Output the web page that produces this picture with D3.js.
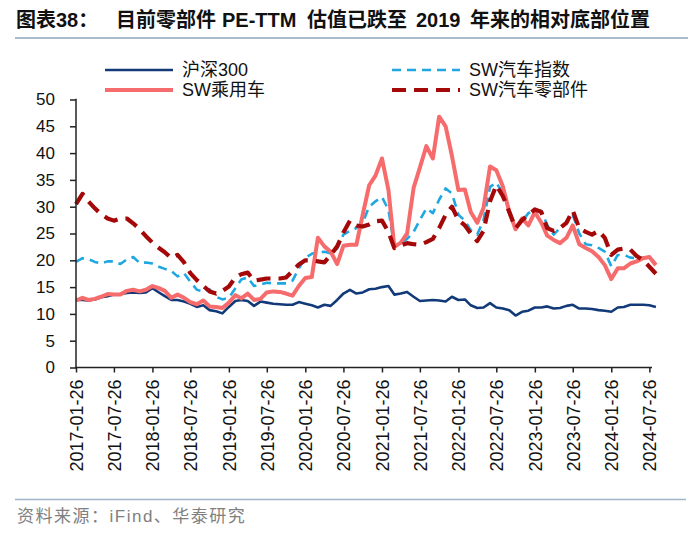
<!DOCTYPE html>
<html><head><meta charset="utf-8">
<script src="https://cdn.jsdelivr.net/npm/d3@7"></script>
<style>
html,body{margin:0;padding:0;background:#fff;}
svg{display:block;}
text{font-family:"Liberation Sans",Arial,"Noto Sans CJK SC",sans-serif;}
</style></head>
<body><svg id="c" width="700" height="535"></svg>
<script>
// ---- data ----
const startDate = "2017-01-26";
const nMonths = 92; // monthly points 2017-01-26 .. 2024-08-26
const seriesNames = ["沪深300","SW汽车指数","SW乘用车","SW汽车零部件"];
const hs300 = [12.6,12.6,12.5,12.7,13.1,13.3,13.6,13.7,13.9,14.0,13.9,14.0,
 14.8,14.0,13.3,12.6,12.6,12.3,11.9,11.3,11.6,10.7,10.5,10.1,
 11.3,12.4,12.6,12.4,11.5,12.3,12.1,11.9,11.8,11.7,11.7,12.2,
 11.9,11.6,11.2,11.7,11.5,12.6,13.8,14.5,13.8,14.0,14.6,14.7,
 15.0,15.2,13.6,13.8,14.1,13.2,12.4,12.5,12.6,12.5,12.3,13.2,
 12.6,12.7,11.6,11.1,11.2,12.0,11.2,11.0,10.7,9.7,10.4,10.6,
 11.2,11.2,11.4,11.0,11.1,11.5,11.7,11.0,11.0,10.9,10.7,10.6,
 10.4,11.2,11.3,11.7,11.7,11.7,11.6,11.3];
const swAuto = [19.7,20.4,20.2,19.7,19.4,19.8,19.8,19.3,20.2,20.6,19.5,19.6,
 19.4,18.8,18.4,18.0,17.0,17.6,16.0,14.5,14.2,14.6,13.2,12.7,
 13.0,14.8,16.4,16.8,15.2,15.5,15.8,15.7,15.7,15.7,16.2,18.5,
 20.5,21.2,21.5,21.6,21.3,22.2,24.8,25.5,26.0,27.0,30.0,31.0,
 31.8,29.4,22.6,23.2,24.0,25.3,27.5,29.7,28.8,31.3,33.4,32.5,
 28.5,27.4,25.6,24.8,27.5,33.7,34.5,32.5,29.5,26.0,27.2,28.8,
 29.4,29.2,26.6,24.8,26.0,27.0,28.5,25.0,23.0,22.8,22.3,21.6,
 18.9,21.0,21.0,20.5,20.4,20.5,20.6,19.3];
const swCar = [12.5,13.0,12.6,12.8,13.2,13.7,13.6,13.6,14.3,14.5,14.2,14.5,
 15.2,14.8,14.3,13.0,13.6,13.0,12.2,11.8,12.5,11.4,11.3,11.1,
 12.1,13.5,12.9,13.8,12.6,12.8,14.0,14.2,14.1,13.8,13.4,15.2,
 16.7,16.9,24.2,22.6,21.6,19.3,22.7,22.9,22.9,28.5,34.0,35.8,
 39.0,33.1,22.5,23.3,25.0,33.5,37.3,41.3,39.0,46.8,45.0,39.5,
 33.1,33.2,29.0,27.0,29.8,37.5,36.8,33.8,29.0,25.8,27.8,26.5,
 29.0,27.0,24.6,23.8,23.2,24.2,26.5,23.0,22.3,21.7,20.6,19.1,
 16.5,18.5,18.5,19.4,19.8,20.4,20.6,19.1];
const swParts = [30.5,32.4,31.0,29.7,28.6,27.8,27.4,27.8,27.8,26.9,25.8,24.5,
 23.3,22.3,21.5,20.4,21.0,19.6,17.6,16.3,15.2,14.2,13.8,14.3,
 15.1,16.8,17.4,17.7,16.2,16.4,16.6,16.6,16.6,16.8,18.0,19.2,
 20.0,20.0,19.8,19.6,21.0,22.6,25.2,27.4,26.5,26.3,26.7,27.3,
 27.4,25.3,22.3,22.8,23.2,23.0,22.9,23.4,24.0,26.0,28.5,30.0,
 27.5,26.5,25.0,23.6,25.5,31.0,34.0,32.0,29.0,26.0,27.5,28.5,
 29.5,29.0,26.0,25.5,26.0,27.0,29.3,26.0,25.3,24.8,25.5,24.2,
 21.0,22.0,22.2,22.0,20.8,20.0,18.8,17.5];
const yTicks = [0,5,10,15,20,25,30,35,40,45,50];
const titleParts = ["图表38：","目前零部件","PE-TTM","估值已跌至","2019","年来的相对底部位置"];
const sourceText = "资料来源：iFind、华泰研究";

// ---- drawing ----
const svg = d3.select("#c");
const parse = d3.timeParse("%Y-%m-%d");
const fmt = d3.timeFormat("%Y-%m-%d");
const t0 = parse(startDate);
const dates = d3.range(nMonths).map(i => d3.timeMonth.offset(t0, i));
const tickDates = d3.range(16).map(i => d3.timeMonth.offset(t0, i*6));

const x = d3.scaleTime().domain([t0, tickDates[tickDates.length-1]]).range([76, 649.4]);
const y = d3.scaleLinear().domain([0,50]).range([367.5, 99.5]);

// title
const titleX = [16, 116, 222, 307, 416, 470];
const tg = svg.append("text").attr("y", 27).attr("font-size", 20).attr("font-weight", "bold").attr("fill", "#111");
titleParts.forEach((p,i) => tg.append("tspan").attr("x", titleX[i]).text(p));
svg.append("line").attr("x1", 15).attr("x2", 688).attr("y1", 38).attr("y2", 38)
  .attr("stroke", "#8EA4BC").attr("stroke-width", 1.5);

// series styles
const styles = [
  {data: hs300, color: "#133A78", width: 2.6, dash: null},
  {data: swAuto, color: "#1FA7E2", width: 2.6, dash: "9,6"},
  {data: swCar, color: "#F66B6C", width: 4, dash: null},
  {data: swParts, color: "#A50808", width: 4.2, dash: "14,8"}
];

const line = d3.line().x((d,i) => x(dates[i])).y(d => y(d));
styles.forEach(s => {
  svg.append("path").attr("d", line(s.data)).attr("fill", "none")
    .attr("stroke", s.color).attr("stroke-width", s.width)
    .attr("stroke-linejoin", "round")
    .attr("stroke-dasharray", s.dash);
});

// axes
const yAxis = d3.axisLeft(y).tickValues(yTicks).tickSize(6).tickSizeOuter(0).tickPadding(15);
const gy = svg.append("g").attr("transform", "translate(76,0)").call(yAxis);
gy.select(".domain").remove();
gy.selectAll("line").attr("stroke", "#222").attr("stroke-width", 1.5);
gy.selectAll("text").attr("font-size", 17).attr("fill", "#111")
  .attr("font-family", "'Liberation Sans',Arial,sans-serif");
svg.append("line").attr("x1", 76).attr("x2", 76).attr("y1", 98.8).attr("y2", 368.2)
  .attr("stroke", "#222").attr("stroke-width", 1.5);

const xAxis = d3.axisBottom(x).tickValues(tickDates).tickSize(5).tickSizeOuter(0).tickFormat(fmt);
const gx = svg.append("g").attr("transform", "translate(0,367.5)").call(xAxis);
gx.select(".domain").remove();
gx.selectAll("line").attr("stroke", "#222").attr("stroke-width", 1.5);
gx.selectAll("text").attr("font-size", 18).attr("fill", "#111")
  .attr("font-family", "'Liberation Sans',Arial,sans-serif")
  .attr("text-anchor", "end").attr("dy", null).attr("y", 0)
  .attr("transform", "translate(6.5,12) rotate(-90)");
svg.append("line").attr("x1", 75.3).attr("x2", 652).attr("y1", 367.5).attr("y2", 367.5)
  .attr("stroke", "#222").attr("stroke-width", 1.5);

// legend
const leg = [
  {name: seriesNames[0], s: styles[0], lx: 105, ly: 70},
  {name: seriesNames[1], s: styles[1], lx: 392, ly: 70},
  {name: seriesNames[2], s: styles[2], lx: 105, ly: 90},
  {name: seriesNames[3], s: styles[3], lx: 392, ly: 90}
];
leg.forEach(l => {
  svg.append("line").attr("x1", l.lx).attr("x2", l.lx + 68).attr("y1", l.ly).attr("y2", l.ly)
    .attr("stroke", l.s.color).attr("stroke-width", l.s.width).attr("stroke-dasharray", l.s.dash);
  svg.append("text").attr("x", l.lx + 77).attr("y", l.ly).attr("dy", "0.35em")
    .attr("font-size", 18).attr("fill", "#111").text(l.name);
});

// source
svg.append("line").attr("x1", 15).attr("x2", 686).attr("y1", 499.5).attr("y2", 499.5)
  .attr("stroke", "#9FB4C8").attr("stroke-width", 1.5);
svg.append("text").attr("x", 17).attr("y", 522).attr("font-size", 17).attr("fill", "#808080")
  .attr("letter-spacing", 1.5).text(sourceText);
</script></body></html>
